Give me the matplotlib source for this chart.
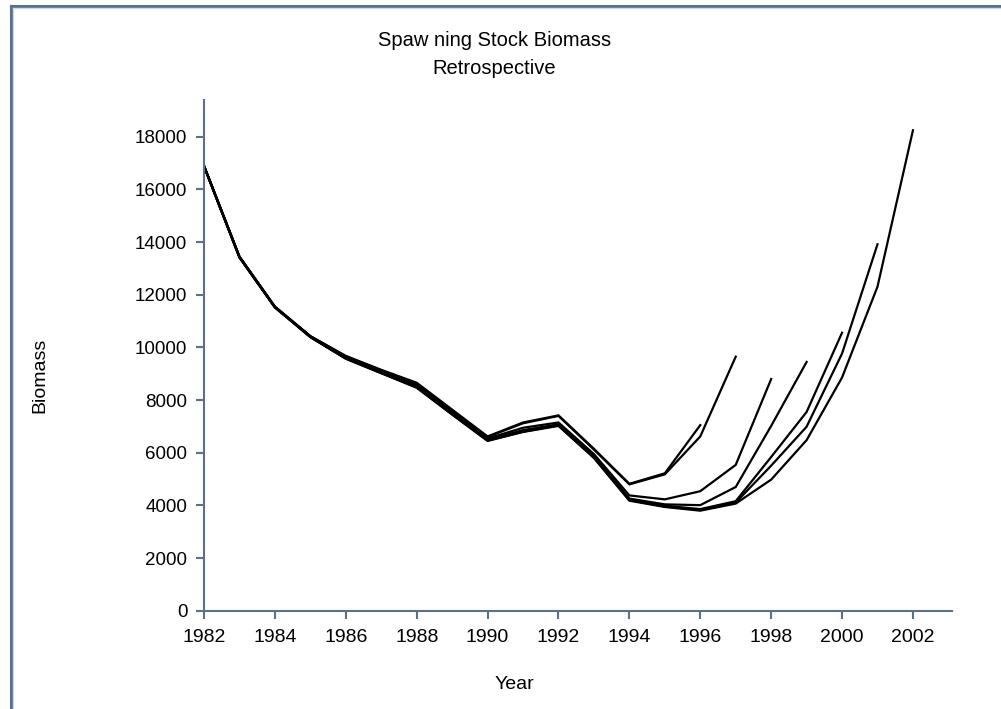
import matplotlib.pyplot as plt
from matplotlib.lines import Line2D

plt.rcParams['font.family'] = ['Liberation Sans', 'DejaVu Sans']

years = list(range(1982, 2003))

# SSB estimates from each retrospective peel (terminal year -> series from 1982)
ssb_1996 = [16900, 13450, 11550, 10430, 9680, 9150, 8660, 7640, 6620, 7150,
            7420, 6150, 4820, 5220, 7050]
ssb_1997 = [16900, 13450, 11550, 10430, 9660, 9130, 8620, 7600, 6600, 7120,
            7400, 6120, 4800, 5180, 6620, 9650]
ssb_1998 = [16900, 13440, 11540, 10420, 9620, 9090, 8560, 7540, 6540, 6950,
            7150, 5950, 4380, 4230, 4540, 5540, 8800]
ssb_1999 = [16890, 13430, 11530, 10410, 9600, 9060, 8520, 7490, 6500, 6860,
            7080, 5870, 4260, 4040, 4010, 4700, 7020, 9450]
ssb_2000 = [16890, 13430, 11530, 10400, 9590, 9040, 8500, 7470, 6480, 6820,
            7060, 5840, 4220, 3990, 3860, 4160, 5840, 7550, 10560]
ssb_2001 = [16880, 13420, 11520, 10400, 9580, 9030, 8480, 7460, 6460, 6800,
            7040, 5820, 4200, 3960, 3830, 4110, 5510, 6990, 9770, 13920]
ssb_2002 = [16880, 13420, 11520, 10390, 9570, 9020, 8470, 7450, 6450, 6790,
            7020, 5800, 4180, 3940, 3800, 4070, 4980, 6480, 8860, 12310, 18250]

runs = [ssb_1996, ssb_1997, ssb_1998, ssb_1999, ssb_2000, ssb_2001, ssb_2002]

xticks = list(range(1982, 2003, 2))
yticks = list(range(0, 18001, 2000))

axis_col = '#5b7089'

fig = plt.figure(figsize=(10.01, 7.09), dpi=100)
ax = fig.add_axes([0.2038, 0.1386, 0.7472, 0.7204])

for series in runs:
    ax.plot(years[:len(series)], series, color='black', lw=1.6,
            solid_joinstyle='miter')

ax.set_xlim(1982, 2003.1)
ax.set_ylim(0, 19400)
ax.set_xticks(xticks)
ax.set_yticks(yticks)
ax.tick_params(axis='both', colors=axis_col, labelcolor='black',
               length=6, width=1.5, direction='out')
ax.tick_params(axis='x', pad=7, labelsize=14)
ax.tick_params(axis='y', pad=6, labelsize=13.5)

for side in ['top', 'right']:
    ax.spines[side].set_visible(False)
for side in ['left', 'bottom']:
    ax.spines[side].set_color(axis_col)
    ax.spines[side].set_linewidth(1.5)

fig.text(0.04, 0.47, 'Biomass', rotation=90, ha='center', va='center',
         fontsize=14)
fig.text(0.514, 0.034, 'Year', ha='center', va='center', fontsize=14)
fig.text(0.494, 0.943, 'Spaw ning Stock Biomass', ha='center', va='center',
         fontsize=14.5)
fig.text(0.494, 0.903, 'Retrospective', ha='center', va='center',
         fontsize=14.5)

# panel frame along the top and left edges
W, H = 1001, 709
fig.add_artist(Line2D([11 / W, 11 / W], [0, 1 - 6 / H], color=axis_col,
                      lw=2.2, transform=fig.transFigure))
fig.add_artist(Line2D([11 / W, 1], [1 - 6 / H, 1 - 6 / H], color=axis_col,
                      lw=2.2, transform=fig.transFigure))
fig.add_artist(Line2D([12.8 / W, 12.8 / W], [0, 1 - 7.8 / H], color='#c8dcea',
                      lw=1.0, transform=fig.transFigure))
fig.add_artist(Line2D([12.8 / W, 1], [1 - 7.8 / H, 1 - 7.8 / H],
                      color='#c8dcea', lw=1.0, transform=fig.transFigure))

fig.savefig('out.png', dpi=100)
